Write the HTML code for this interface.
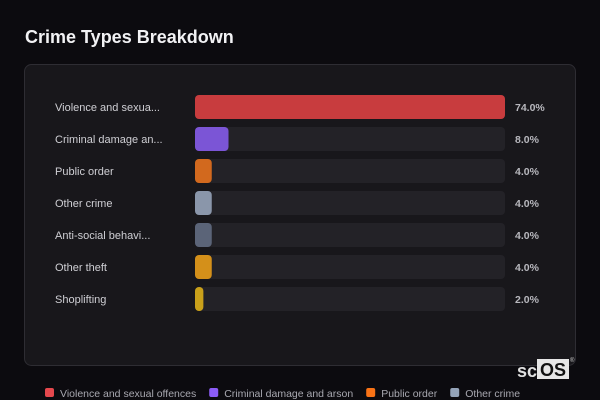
<!DOCTYPE html>
<html><head><meta charset="utf-8"><style>
html,body{margin:0;padding:0;background:#0c0b0f;width:600px;height:400px;overflow:hidden;font-family:"Liberation Sans",sans-serif}
</style></head><body>
<svg id="chart" width="600" height="400" xmlns="http://www.w3.org/2000/svg">
<rect x="0" y="0" width="600" height="400" fill="#0c0b0f"/>
<text x="25" y="43" fill="#f2f2f4" font-size="18" font-weight="bold">Crime Types Breakdown</text>
<rect x="24.5" y="64.5" width="551" height="301" rx="7" fill="#18171b" stroke="#2e2d33"/>
<g id="bars"></g>
<g>
<text x="537" y="377" fill="#e0e0e0" font-size="18" font-weight="bold" text-anchor="end">sc</text>
<rect x="537" y="359" width="32" height="20" fill="#e6e6e6"/>
<text x="553" y="376" fill="#111" font-size="18" font-weight="bold" text-anchor="middle">OS</text>
<text x="570" y="362" fill="#ccc" font-size="6">®</text>
</g>
<g id="legend"></g>
</svg>
<script>
const categories=["Violence and sexual offences","Criminal damage and arson","Public order","Other crime","Anti-social behaviour","Other theft","Shoplifting"];
const labels=["Violence and sexua...","Criminal damage an...","Public order","Other crime","Anti-social behavi...","Other theft","Shoplifting"];
const values=[74.0,8.0,4.0,4.0,4.0,4.0,2.0];
const barColors=["#c83c3e","#7b55d6","#d2691e","#8a96aa","#5b6478","#d4901a","#c9a01a"];
const legendColors=["#e5484d","#8b5cf6","#f97316","#94a3b8"];
const NS="http://www.w3.org/2000/svg";
const x0=195,trackW=310,rowY0=95,rowStep=32,barH=24;
const maxV=Math.max(...values);
const xs=v=>v/maxV*trackW;
const g=document.getElementById('bars');
function mk(tag,attrs,parent){const e=document.createElementNS(NS,tag);for(const k in attrs)e.setAttribute(k,attrs[k]);parent.appendChild(e);return e;}
categories.forEach((c,i)=>{
  const y=rowY0+i*rowStep;
  const lab=mk('text',{x:55,y:y+16,fill:'#cfcfd4','font-size':11},g);lab.textContent=labels[i];
  
  
  const tr=mk('rect',{x:x0,y:y,width:trackW,height:barH,rx:4,fill:'#232227'},g);
  
  
  const b=mk('rect',{x:x0,y:y,width:Math.max(xs(values[i]),1),height:barH,rx:4,fill:barColors[i]},g);
  
  
  const v=mk('text',{x:515,y:y+16,fill:'#b8b8be','font-size':10.5,'font-weight':'bold'},g);v.textContent=values[i].toFixed(1)+'%';
  
  
});
const lg=document.getElementById('legend');
let lx=45;
legendColors.forEach((col,i)=>{
  const r=mk('rect',{x:lx,y:388,width:9,height:9,rx:2,fill:col},lg);
  
  
  const t=mk('text',{x:lx+15,y:397,fill:'#a8a8b0','font-size':10.5},lg);t.textContent=categories[i];
  
  
  lx+=15+t.getComputedTextLength()+13;
});
</script>
</body></html>
